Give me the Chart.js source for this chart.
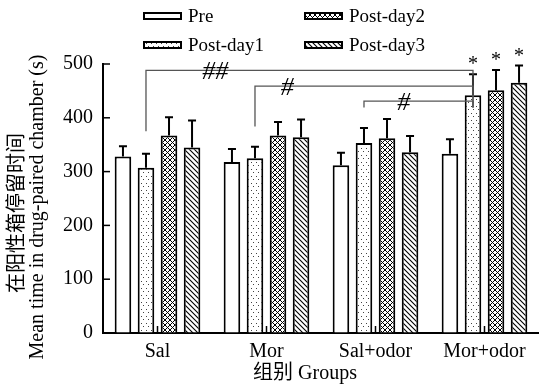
<!DOCTYPE html>
<html>
<head>
<meta charset="utf-8">
<script src="https://cdn.jsdelivr.net/npm/chart.js@4.4.1/dist/chart.umd.min.js"></script>
<style>
  html, body { margin: 0; padding: 0; background: #fff; }
  #wrap { width: 539px; height: 387px; }
</style>
</head>
<body>
<div id="wrap"><canvas id="chart"></canvas></div>
<script>
// groups on the x axis
const groups = ['Sal', 'Mor', 'Sal+odor', 'Mor+odor'];
const seriesNames = ['Pre', 'Post-day1', 'Post-day2', 'Post-day3'];

// mean time (s) and error per series
const preMean = [328, 318, 312, 333];
const preErr = [19, 24, 23, 27];
const day1Mean = [307, 325, 353, 442];
const day1Err = [26, 21, 28, 39];
const day2Mean = [367, 367, 362, 451];
const day2Err = [34, 25, 36, 38];
const day3Mean = [345, 364, 336, 465];
const day3Err = [50, 33, 30, 32];

const yTicks = [0, 100, 200, 300, 400, 500];

// significance brackets: [group, series] -> Mor+odor Post-day1
const bracketFrom = [[0, 1], [1, 1], [2, 1]];
const bracketTo = [3, 1];
const bracketLevel = [488, 459, 431];
const bracketStart = [375, 384, 419];
const bracketEnd = 419;
const bracketText = ['##', '#', '#'];
const bracketTextAt = [0.53, 1.19, 2.26];
// stars over Mor+odor post bars
const starMarks = [[3, 1], [3, 2], [3, 3]];

const SERIF = '"Liberation Serif", "Times New Roman", "Noto Sans CJK SC", serif';
const canvas = document.getElementById('chart');
const ctx = canvas.getContext('2d');

/**
 * Build a repeating fill pattern from a small tile
 */
function makePattern(w, h, draw) {
  const tile = document.createElement('canvas');
  tile.width = w;
  tile.height = h;
  const t = tile.getContext('2d');
  t.fillStyle = '#fff';
  t.fillRect(0, 0, w, h);
  draw(t);
  return ctx.createPattern(tile, 'repeat');
}

const dotFill = makePattern(5, 7, t => {
  t.fillStyle = '#444';
  t.fillRect(1, 1, 1, 1);
  t.fillRect(3, 4, 1, 1);
});

const crossFill = makePattern(5, 5, t => {
  t.strokeStyle = '#000';
  t.lineWidth = 1;
  t.beginPath();
  t.moveTo(-1, -1); t.lineTo(6, 6);
  t.moveTo(6, -1); t.lineTo(-1, 6);
  t.stroke();
});

const diagFill = makePattern(5, 5, t => {
  t.strokeStyle = '#000';
  t.lineWidth = 1.1;
  t.beginPath();
  t.moveTo(-1, -1); t.lineTo(6, 6);
  t.moveTo(4, -1); t.lineTo(6, 1);
  t.moveTo(-1, 4); t.lineTo(1, 6);
  t.stroke();
});

const fills = ['#fff', dotFill, crossFill, diagFill];
const means = [preMean, day1Mean, day2Mean, day3Mean];
const errs = [preErr, day1Err, day2Err, day3Err];

// error bars, brackets, stars and inward ticks
const annotatePlugin = {
  id: 'annotate',
  afterDatasetsDraw(chart) {
    const c = chart.ctx;
    const y = chart.scales.y;
    const x = chart.scales.x;
    const area = chart.chartArea;
    const barX = (g, s) => chart.getDatasetMeta(s).data[g].x;

    c.save();
    // error bars (upper only)
    c.strokeStyle = '#000';
    c.lineWidth = 2;
    means.forEach((arr, s) => {
      arr.forEach((v, g) => {
        const bx = barX(g, s);
        const y0 = y.getPixelForValue(v);
        const y1 = y.getPixelForValue(v + errs[s][g]);
        c.beginPath();
        c.moveTo(bx, y0);
        c.lineTo(bx, y1);
        c.moveTo(bx - 4, y1);
        c.lineTo(bx + 4, y1);
        c.stroke();
      });
    });

    // inward ticks
    c.lineWidth = 1.5;
    yTicks.forEach(v => {
      const py = y.getPixelForValue(v);
      c.beginPath();
      c.moveTo(area.left, py);
      c.lineTo(area.left + 7, py);
      c.stroke();
    });
    groups.forEach((g, i) => {
      const px = x.getPixelForValue(i);
      c.beginPath();
      c.moveTo(px, area.bottom);
      c.lineTo(px, area.bottom - 7);
      c.stroke();
    });

    // brackets
    c.strokeStyle = '#555';
    c.lineWidth = 1.3;
    const rx = barX(bracketTo[0], bracketTo[1]);
    bracketFrom.forEach(([g, s], i) => {
      const lx = barX(g, s);
      const ly = y.getPixelForValue(bracketLevel[i]);
      c.beginPath();
      c.moveTo(lx, y.getPixelForValue(bracketStart[i]));
      c.lineTo(lx, ly);
      c.lineTo(rx, ly);
      c.lineTo(rx, y.getPixelForValue(bracketEnd));
      c.stroke();
    });
    c.fillStyle = '#000';
    c.font = 'italic 26px ' + SERIF;
    c.textAlign = 'center';
    c.textBaseline = 'middle';
    bracketText.forEach((txt, i) => {
      const px = x.getPixelForValue(bracketTextAt[i]);
      c.fillText(txt, px, y.getPixelForValue(bracketLevel[i]) + 2);
    });

    // stars
    c.font = '20px ' + SERIF;
    starMarks.forEach(([g, s]) => {
      const top = y.getPixelForValue(means[s][g] + errs[s][g]);
      c.fillText('*', barX(g, s), top - 9);
    });
    c.restore();
  },
  afterDraw(chart) {
    const c = chart.ctx;
    c.save();
    c.fillStyle = '#000';
    c.textBaseline = 'middle';

    // legend, two columns
    const cols = [144, 305];
    const rows = [16, 45];
    c.font = '19px ' + SERIF;
    seriesNames.forEach((name, i) => {
      const bx = cols[Math.floor(i / 2)];
      const by = rows[i % 2];
      c.fillStyle = fills[i];
      c.fillRect(bx, by - 3, 37, 6);
      c.strokeStyle = '#000';
      c.lineWidth = 2;
      c.strokeRect(bx, by - 3, 37, 6);
      c.fillStyle = '#000';
      c.textAlign = 'left';
      c.fillText(name, bx + 44, by + 1);
    });

    // axis titles
    c.font = '20px ' + SERIF;
    c.textAlign = 'center';
    c.fillText('组别 Groups', 305, 374);

    c.save();
    c.translate(0, 207);
    c.rotate(-Math.PI / 2);
    c.fillText('Mean time in drug-paired chamber (s)', 0, 38);
    c.restore();

    c.translate(0, 213);
    c.rotate(-Math.PI / 2);
    c.font = '20px ' + SERIF;
    c.fillText('在阳性箱停留时间', 0, 18);
    c.restore();
  }
};

new Chart(ctx, {
  type: 'bar',
  data: {
    labels: groups,
    datasets: seriesNames.map((name, i) => ({
      label: name,
      data: means[i],
      backgroundColor: fills[i],
      borderColor: '#000',
      borderWidth: 2,
      borderSkipped: 'bottom'
    }))
  },
  options: {
    responsive: true,
    maintainAspectRatio: false,
    animation: false,
    devicePixelRatio: 1,
    layout: {
      padding: { left: 53, right: 0, top: 64, bottom: 16 }
    },
    categoryPercentage: 0.845,
    barPercentage: 0.72,
    scales: {
      x: {
        grid: { display: true, drawOnChartArea: false, drawTicks: false },
        border: { color: '#000', width: 2 },
        ticks: {
          color: '#000',
          padding: 7,
          font: { family: SERIF, size: 20 }
        }
      },
      y: {
        min: 0,
        max: 500,
        grid: { display: true, drawOnChartArea: false, drawTicks: false },
        border: { color: '#000', width: 2 },
        ticks: {
          color: '#000',
          stepSize: 100,
          padding: 10,
          font: { family: SERIF, size: 20 }
        }
      }
    },
    plugins: {
      legend: { display: false },
      tooltip: { enabled: false }
    }
  },
  plugins: [annotatePlugin]
});
</script>
</body>
</html>
